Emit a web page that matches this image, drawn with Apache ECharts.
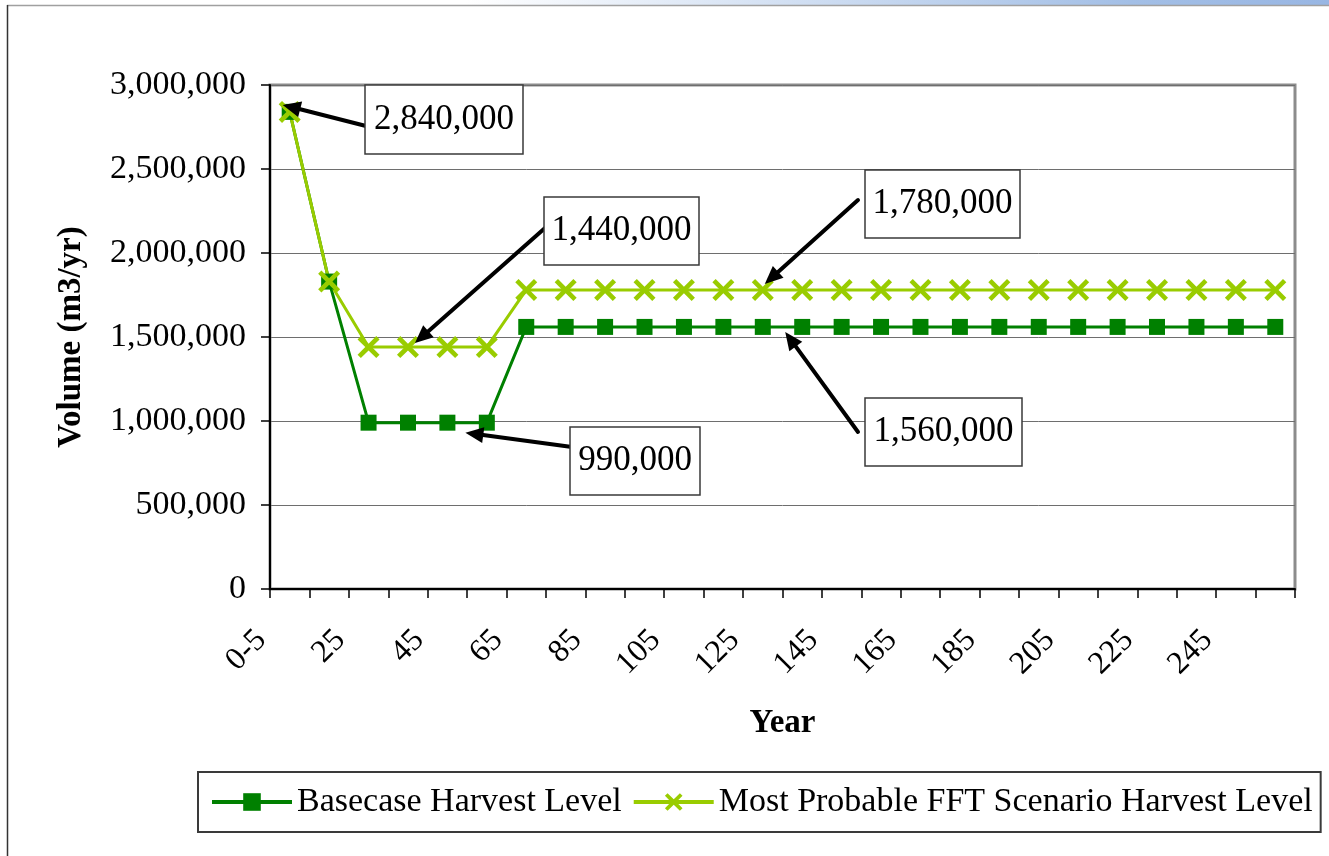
<!DOCTYPE html>
<html>
<head>
<meta charset="utf-8">
<script src="https://cdn.jsdelivr.net/npm/echarts@6/dist/echarts.min.js"></script>
<style>
  html, body { margin: 0; padding: 0; background: #fff; }
  #chart { width: 1329px; height: 856px; }
</style>
</head>
<body>
<div id="chart"></div>
<script>
// harvest level by period
const categories = ['0-5', '15', '25', '35', '45', '55', '65', '75', '85', '95', '105', '115', '125',
  '135', '145', '155', '165', '175', '185', '195', '205', '215', '225', '235', '245', '255'];
const basecase = [2840000, 1830000, 990000, 990000, 990000, 990000, 1560000, 1560000, 1560000,
  1560000, 1560000, 1560000, 1560000, 1560000, 1560000, 1560000, 1560000, 1560000, 1560000,
  1560000, 1560000, 1560000, 1560000, 1560000, 1560000, 1560000];
const mostProbable = [2840000, 1830000, 1440000, 1440000, 1440000, 1440000, 1780000, 1780000,
  1780000, 1780000, 1780000, 1780000, 1780000, 1780000, 1780000, 1780000, 1780000, 1780000,
  1780000, 1780000, 1780000, 1780000, 1780000, 1780000, 1780000, 1780000];
const seriesNames = ['Basecase Harvest Level', 'Most Probable FFT Scenario Harvest Level'];

// callouts: label box (px), arrow tail (px), pointed data point + small pixel nudge
const callouts = [
  { text: '2,840,000', box: [365, 85, 158, 69], tail: [366, 126], series: 1, idx: 0, nudge: [-7, -7] },
  { text: '1,440,000', box: [544, 197, 155, 68], tail: [545, 228], series: 1, idx: 3, nudge: [7, -4] },
  { text: '990,000', box: [570, 427, 130, 68], tail: [572, 447], series: 0, idx: 4, nudge: [18, 10] },
  { text: '1,780,000', box: [865, 170, 155, 68], tail: [858, 200], series: 1, idx: 12, nudge: [2, -6] },
  { text: '1,560,000', box: [865, 398, 157, 68], tail: [858, 432], series: 0, idx: 13, nudge: [-17, 5] },
];

const FONT = '"Liberation Serif", "Times New Roman", serif';
const xSymbol = 'path://M0,1.5L1.5,0L5,3.5L8.5,0L10,1.5L6.5,5L10,8.5L8.5,10L5,6.5L1.5,10L0,8.5L3.5,5Z';
const fmt = (v) => String(v).replace(/\B(?=(\d{3})+(?!\d))/g, ',');

const chart = echarts.init(document.getElementById('chart'));

chart.setOption({
  backgroundColor: '#fff',
  animation: false,
  grid: {
    left: 270, right: 34, top: 85, bottom: 267,
    show: true, borderColor: '#8c8c8c', borderWidth: 3, backgroundColor: '#fff',
  },
  legend: {
    left: 198, top: 772,
    data: seriesNames,
    itemWidth: 80, itemHeight: 22, itemGap: 10,
    padding: [13, 8, 13, 12],
    borderColor: '#3a3a3a', borderWidth: 2,
    lineStyle: { width: 4 },
    textStyle: { fontFamily: FONT, fontSize: 34, color: '#000' },
  },
  xAxis: {
    type: 'category',
    data: categories,
    boundaryGap: true,
    name: 'Year',
    nameLocation: 'middle',
    nameGap: 118,
    nameTextStyle: { fontFamily: FONT, fontSize: 33, fontWeight: 'bold', color: '#000' },
    axisLine: { lineStyle: { color: '#000', width: 2 } },
    axisTick: { show: true, interval: 0, length: 9, lineStyle: { color: '#000', width: 1.5 } },
    axisLabel: {
      interval: 1, rotate: 45, margin: 18, padding: [0, 40, 0, 0],
      fontFamily: FONT, fontSize: 32, color: '#000',
    },
  },
  yAxis: {
    type: 'value',
    min: 0, max: 3000000, interval: 500000,
    name: 'Volume (m3/yr)',
    nameLocation: 'middle',
    nameGap: 182,
    nameTextStyle: { fontFamily: FONT, fontSize: 33, fontWeight: 'bold', color: '#000' },
    axisLine: { show: true, lineStyle: { color: '#000', width: 2 } },
    axisTick: { show: true, length: 9, lineStyle: { color: '#000', width: 1.5 } },
    axisLabel: { margin: 24, fontFamily: FONT, fontSize: 34, color: '#000', formatter: fmt },
    splitLine: { lineStyle: { color: '#6e6e6e', width: 1 } },
  },
  series: [
    {
      name: seriesNames[0],
      type: 'line',
      data: basecase,
      symbol: 'rect',
      symbolSize: 16,
      showAllSymbol: true,
      lineStyle: { color: '#008000', width: 3 },
      itemStyle: { color: '#008000' },
    },
    {
      name: seriesNames[1],
      type: 'line',
      data: mostProbable,
      symbol: xSymbol,
      symbolSize: 22,
      showAllSymbol: true,
      lineStyle: { color: '#99cc00', width: 3 },
      itemStyle: { color: '#99cc00' },
    },
  ],
});

// frame + callout graphics, arrow tips placed from the data points
const seriesData = [basecase, mostProbable];
const graphics = [
  {
    type: 'rect', silent: true, z: 100,
    shape: { x: 0, y: 0, width: 1329, height: 5 },
    style: {
      fill: new echarts.graphic.LinearGradient(0, 0, 1, 0, [
        { offset: 0, color: '#ffffff' },
        { offset: 0.35, color: '#ffffff' },
        { offset: 0.85, color: '#a3bfe6' },
        { offset: 1, color: '#98b6e3' },
      ]),
    },
  },
  { type: 'line', silent: true, z: 100, shape: { x1: 7, y1: 5.5, x2: 1329, y2: 5.5 }, style: { stroke: '#a0a0a0', lineWidth: 1.5 } },
  { type: 'line', silent: true, z: 100, shape: { x1: 7.5, y1: 5, x2: 7.5, y2: 856 }, style: { stroke: '#333', lineWidth: 1.5 } },
];

callouts.forEach((c) => {
  const p = chart.convertToPixel({ seriesIndex: c.series }, [c.idx, seriesData[c.series][c.idx]]);
  const tx = p[0] + c.nudge[0];
  const ty = p[1] + c.nudge[1];
  const [sx, sy] = c.tail;
  const dx = tx - sx;
  const dy = ty - sy;
  const len = Math.hypot(dx, dy);
  const ux = dx / len;
  const uy = dy / len;
  const headLen = 18;
  const headW = 8;
  const bx = tx - ux * headLen;
  const by = ty - uy * headLen;
  graphics.push({
    type: 'line', silent: true, z: 100,
    shape: { x1: sx, y1: sy, x2: bx + ux * 2, y2: by + uy * 2 },
    style: { stroke: '#000', lineWidth: 4, lineCap: 'round' },
  });
  graphics.push({
    type: 'polygon', silent: true, z: 100,
    shape: { points: [[tx, ty], [bx - uy * headW, by + ux * headW], [bx + uy * headW, by - ux * headW]] },
    style: { fill: '#000' },
  });
  const [x, y, w, h] = c.box;
  graphics.push({
    type: 'rect', silent: true, z: 101,
    shape: { x, y, width: w, height: h },
    style: { fill: '#fff', stroke: '#3a3a3a', lineWidth: 1.5 },
  });
  graphics.push({
    type: 'text', silent: true, z: 102,
    x: x + w / 2, y: y + h / 2,
    style: {
      text: c.text, fontFamily: FONT, fontSize: 35, fill: '#000',
      align: 'center', verticalAlign: 'middle',
    },
  });
});

chart.setOption({ graphic: graphics });
</script>
</body>
</html>
